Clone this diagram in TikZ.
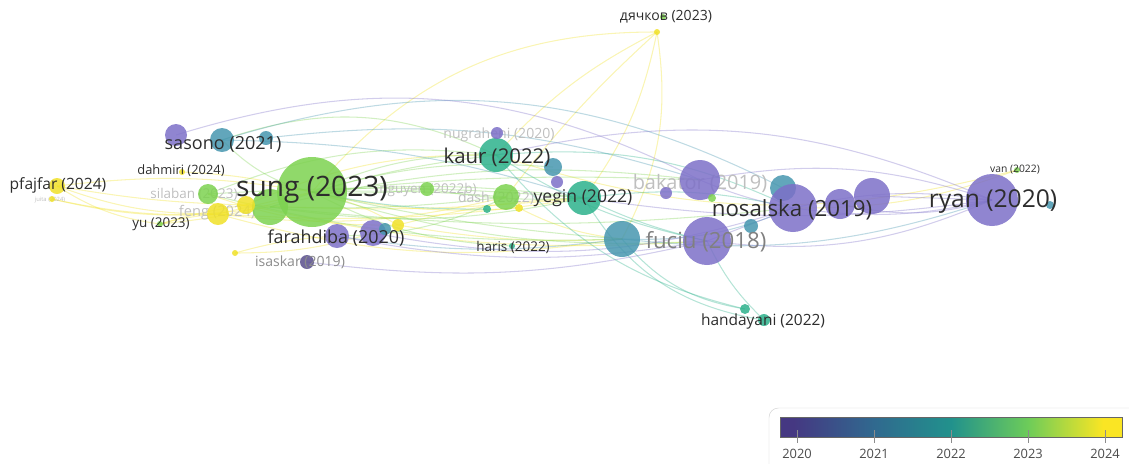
\documentclass[tikz,border=0pt]{standalone}
\usepackage{fontspec}
\setmainfont{Open Sans}
\usetikzlibrary{backgrounds}

\definecolor{an20}{RGB}{125,112,200}
\definecolor{an21}{RGB}{70,150,175}
\definecolor{an22}{RGB}{45,178,140}
\definecolor{an23}{RGB}{125,210,80}
\definecolor{an24}{RGB}{240,225,40}
\definecolor{texte}{RGB}{45,45,45}

\pgfdeclarehorizontalshading{viridis}{100bp}{rgb(0bp)=(0.27,0.22,0.51); rgb(27bp)=(0.27,0.22,0.51); rgb(38.6bp)=(0.19,0.41,0.56); rgb(50bp)=(0.13,0.57,0.55); rgb(61.3bp)=(0.43,0.80,0.35); rgb(72.2bp)=(0.98,0.90,0.14); rgb(100bp)=(0.98,0.90,0.14)}

\begin{document}
\begin{tikzpicture}[x=0.03cm,y=-0.03cm,
  bulle/.style={circle,inner sep=0pt,minimum size=#1*0.6mm,fill opacity=0.85},
  lien/.style={line width=0.9pt,draw opacity=0.35},
  etiq/.style={font=\fontsize{#1}{#1}\selectfont,text=texte,inner sep=0pt},
  pale/.style={font=\fontsize{#1}{#1}\selectfont,text=black!25,inner sep=0pt}]

\useasboundingbox (0,0) rectangle (1129,463);

%etiquettes pales (derriere les bulles)
\node[pale=5] (juita-t) at (50,200) {juita (2024)};
\node[pale=11.5] (silaban-t) at (194,194) {silaban (2023)};
\node[pale=12.5] (feng-t) at (217,213) {feng (2024)};
\node[pale=11.5] (nguyen-t) at (428,190) {nguyen (2022b)};
\node[pale=12] (nugraheni-t) at (499,135) {nugraheni (2020)};
\node[pale=12] (dash-t) at (496,198) {dash (2022)};
\node[pale=17] (bakator-t) at (700,183) {bakator (2019)};

%bulles
\node[bulle=18,fill=an23] (vert1) at (270,207) {};
\node[bulle=35,fill=an23] (sung) at (312,192) {};
\node[bulle=11,fill=an20] (viol1) at (176,135) {};
\node[bulle=12,fill=an21] (sasono) at (222,140) {};
\node[bulle=7,fill=an21] (bleu1) at (266,138) {};
\node[bulle=8,fill=an24] (pfajfar) at (57,186) {};
\node[bulle=3,fill=an24] (juita) at (52,199) {};
\node[bulle=3,fill=an24] (dahmiri) at (182,172) {};
\node[bulle=10,fill=an23] (silaban) at (208,194) {};
\node[bulle=11,fill=an24] (feng) at (218,214) {};
\node[bulle=9,fill=an24] (jaune1) at (246,205) {};
\node[bulle=3,fill=an23] (yu) at (160,224) {};
\node[bulle=3,fill=an24] (jaune2) at (235,253) {};
\node[bulle=12,fill=an20] (farahdiba) at (337,236) {};
\node[bulle=13,fill=an20] (viol2) at (373,233) {};
\node[bulle=6,fill=an21] (bleu2) at (385,229) {};
\node[bulle=7,fill=an20!70!black] (isaskar) at (307,262) {};
\node[bulle=6,fill=an24] (jaune3) at (398,225) {};
\node[bulle=7,fill=an23] (nguyen) at (427,189) {};
\node[bulle=17,fill=an22] (kaur) at (496,155) {};
\node[bulle=6,fill=an20] (nugraheni) at (497,133) {};
\node[bulle=9,fill=an21] (bleu3) at (553,167) {};
\node[bulle=6,fill=an20] (viol3) at (557,182) {};
\node[bulle=13,fill=an23] (dash) at (506,197) {};
\node[bulle=4,fill=an22] (vert2) at (487,209) {};
\node[bulle=4,fill=an24] (jaune4) at (519,208) {};
\node[bulle=17,fill=an22] (yegin) at (584,198) {};
\node[bulle=3,fill=an22] (haris) at (512,246) {};
\node[bulle=18,fill=an21] (bleu4) at (622,239) {};
\node[bulle=24,fill=an20] (fuciu) at (707,241) {};
\node[bulle=20,fill=an20] (bakator) at (700,180) {};
\node[bulle=6,fill=an20] (viol4) at (666,193) {};
\node[bulle=4,fill=an23] (vert3) at (712,198) {};
\node[bulle=13,fill=an21] (bleu5) at (783,188) {};
\node[bulle=24,fill=an20] (nosalska) at (793,208) {};
\node[bulle=15,fill=an20] (viol5) at (840,204) {};
\node[bulle=18,fill=an20] (viol6) at (872,196) {};
\node[bulle=7,fill=an21] (bleu6) at (751,226) {};
\node[bulle=26,fill=an20] (ryan) at (992,200) {};
\node[bulle=4,fill=an21] (bleu7) at (1050,205) {};
\node[bulle=3,fill=an23] (van) at (1017,170) {};
\node[bulle=3,fill=an23] (dyachkov) at (663,17) {};
\node[bulle=3,fill=an24] (jaune5) at (657,32) {};
\node[bulle=5,fill=an22] (vert4) at (745,309) {};
\node[bulle=6,fill=an22] (handayani) at (764,320) {};

%liens
\begin{scope}[on background layer]
\foreach \a/\b/\c/\k in {
  pfajfar/feng/an24/-10, pfajfar/sung/an24/8, pfajfar/yu/an24/-12,
  pfajfar/jaune1/an24/-4, juita/feng/an24/-8, juita/vert1/an24/-10,
  yu/feng/an24/5, yu/sung/an24/-6, yu/jaune1/an24/4,
  dahmiri/sung/an24/6, feng/sung/an24/0, feng/dash/an24/-10,
  feng/bleu4/an24/-12, feng/yegin/an24/-6, jaune1/kaur/an24/12,
  jaune1/yegin/an24/-4, jaune1/fuciu/an24/-8,
  jaune2/farahdiba/an24/6, jaune2/viol2/an24/-8,
  jaune5/sung/an24/-25, jaune5/yegin/an24/12, jaune5/dash/an24/-5,
  jaune5/bleu4/an24/18, jaune5/kaur/an24/-10,
  van/kaur/an24/16, van/nosalska/an24/10,
  jaune3/yegin/an24/6, jaune3/sung/an24/-8, jaune3/bleu4/an24/-6,
  jaune4/bleu4/an24/-10, sung/jaune4/an24/-8, silaban/jaune3/an24/-10,
  sasono/kaur/an23/22, sung/kaur/an23/12, sung/yegin/an23/6,
  sung/nguyen/an23/-4, sung/dash/an23/3, sung/fuciu/an23/-10,
  silaban/kaur/an23/14, vert1/yegin/an23/-10, farahdiba/dash/an23/-12,
  sung/haris/an23/-12, vert1/bakator/an23/10, sung/bleu3/an23/10,
  sasono/sung/an23/-15, nguyen/yegin/an23/-6, vert1/kaur/an23/6,
  vert1/dash/an23/-4, silaban/yegin/an23/4, sung/bleu4/an23/-4,
  silaban/bleu4/an23/-8, vert1/nosalska/an23/-6, sung/bakator/an23/4,
  kaur/fuciu/an22/-10, kaur/nosalska/an22/15, yegin/fuciu/an22/-6,
  yegin/nosalska/an22/10, vert4/bleu4/an22/20, handayani/fuciu/an22/10,
  vert4/kaur/an22/18, handayani/yegin/an22/25, sung/vert2/an22/-6,
  bleu4/nosalska/an21/-12, sasono/bleu5/an21/22, bleu1/bakator/an21/12,
  farahdiba/bleu4/an21/-8, bleu4/ryan/an21/-12, sasono/yegin/an21/8,
  fuciu/nosalska/an20/0, nosalska/ryan/an20/10, nosalska/ryan/an20/-10,
  bakator/ryan/an20/14, viol6/ryan/an20/0, fuciu/ryan/an20/-15,
  farahdiba/fuciu/an20/-10, viol1/bakator/an20/22, kaur/ryan/an20/18,
  isaskar/fuciu/an20/-10, yegin/ryan/an20/-8, viol5/ryan/an20/-14,
  bakator/nosalska/an20/-6, viol2/nosalska/an20/-14
}{
  \draw[lien,\c] (\a.center) to[bend left=\k] (\b.center);
}
\end{scope}

%etiquettes
\node[etiq=24] (sung-t) at (312,190) {sung (2023)};
\node[etiq=15.4] (sasono-t) at (223,144) {sasono (2021)};
\node[etiq=13.3] (pfajfar-t) at (58,185) {pfajfar (2024)};
\node[etiq=11] (dahmiri-t) at (181,171) {dahmiri (2024)};
\node[etiq=11.5] (yu-t) at (161,224) {yu (2023)};
\node[etiq=15.3] (farahdiba-t) at (336,238) {farahdiba (2020)};
\node[etiq=12,text=black!45] (isaskar-t) at (300,262) {isaskar (2019)};
\node[etiq=17.4] (kaur-t) at (497,157) {kaur (2022)};
\node[etiq=15] (yegin-t) at (583,198) {yegin (2022)};
\node[etiq=11.5] (haris-t) at (513,247) {haris (2022)};
\node[etiq=19,text=black!50] (fuciu-t) at (706,242) {fuciu (2018)};
\node[etiq=19] (nosalska-t) at (792,210) {nosalska (2019)};
\node[etiq=21] (ryan-t) at (993,202) {ryan (2020)};
\node[etiq=8.8] (van-t) at (1015,170) {van (2022)};
\node[etiq=12] (dyachkov-t) at (666,17) {дячков (2023)};
\node[etiq=13.2] (handayani-t) at (763,321) {handayani (2022)};

%legende
\draw[gray!35,fill=white,rounded corners=8] (769,408) rectangle (1145,480);
\shade[shading=viridis,draw=black!60,line width=0.4pt] (780,417) rectangle (1122,437);
\foreach \an [count=\i from 0] in {2020,2021,2022,2023,2024}{
  \draw[black!45,line width=0.5pt] (797+77*\i,430) -- (797+77*\i,443);
  \node[etiq=11,text=black!70] (an\an) at (797+77*\i,454) {\an};
}
\end{tikzpicture}
\end{document}
